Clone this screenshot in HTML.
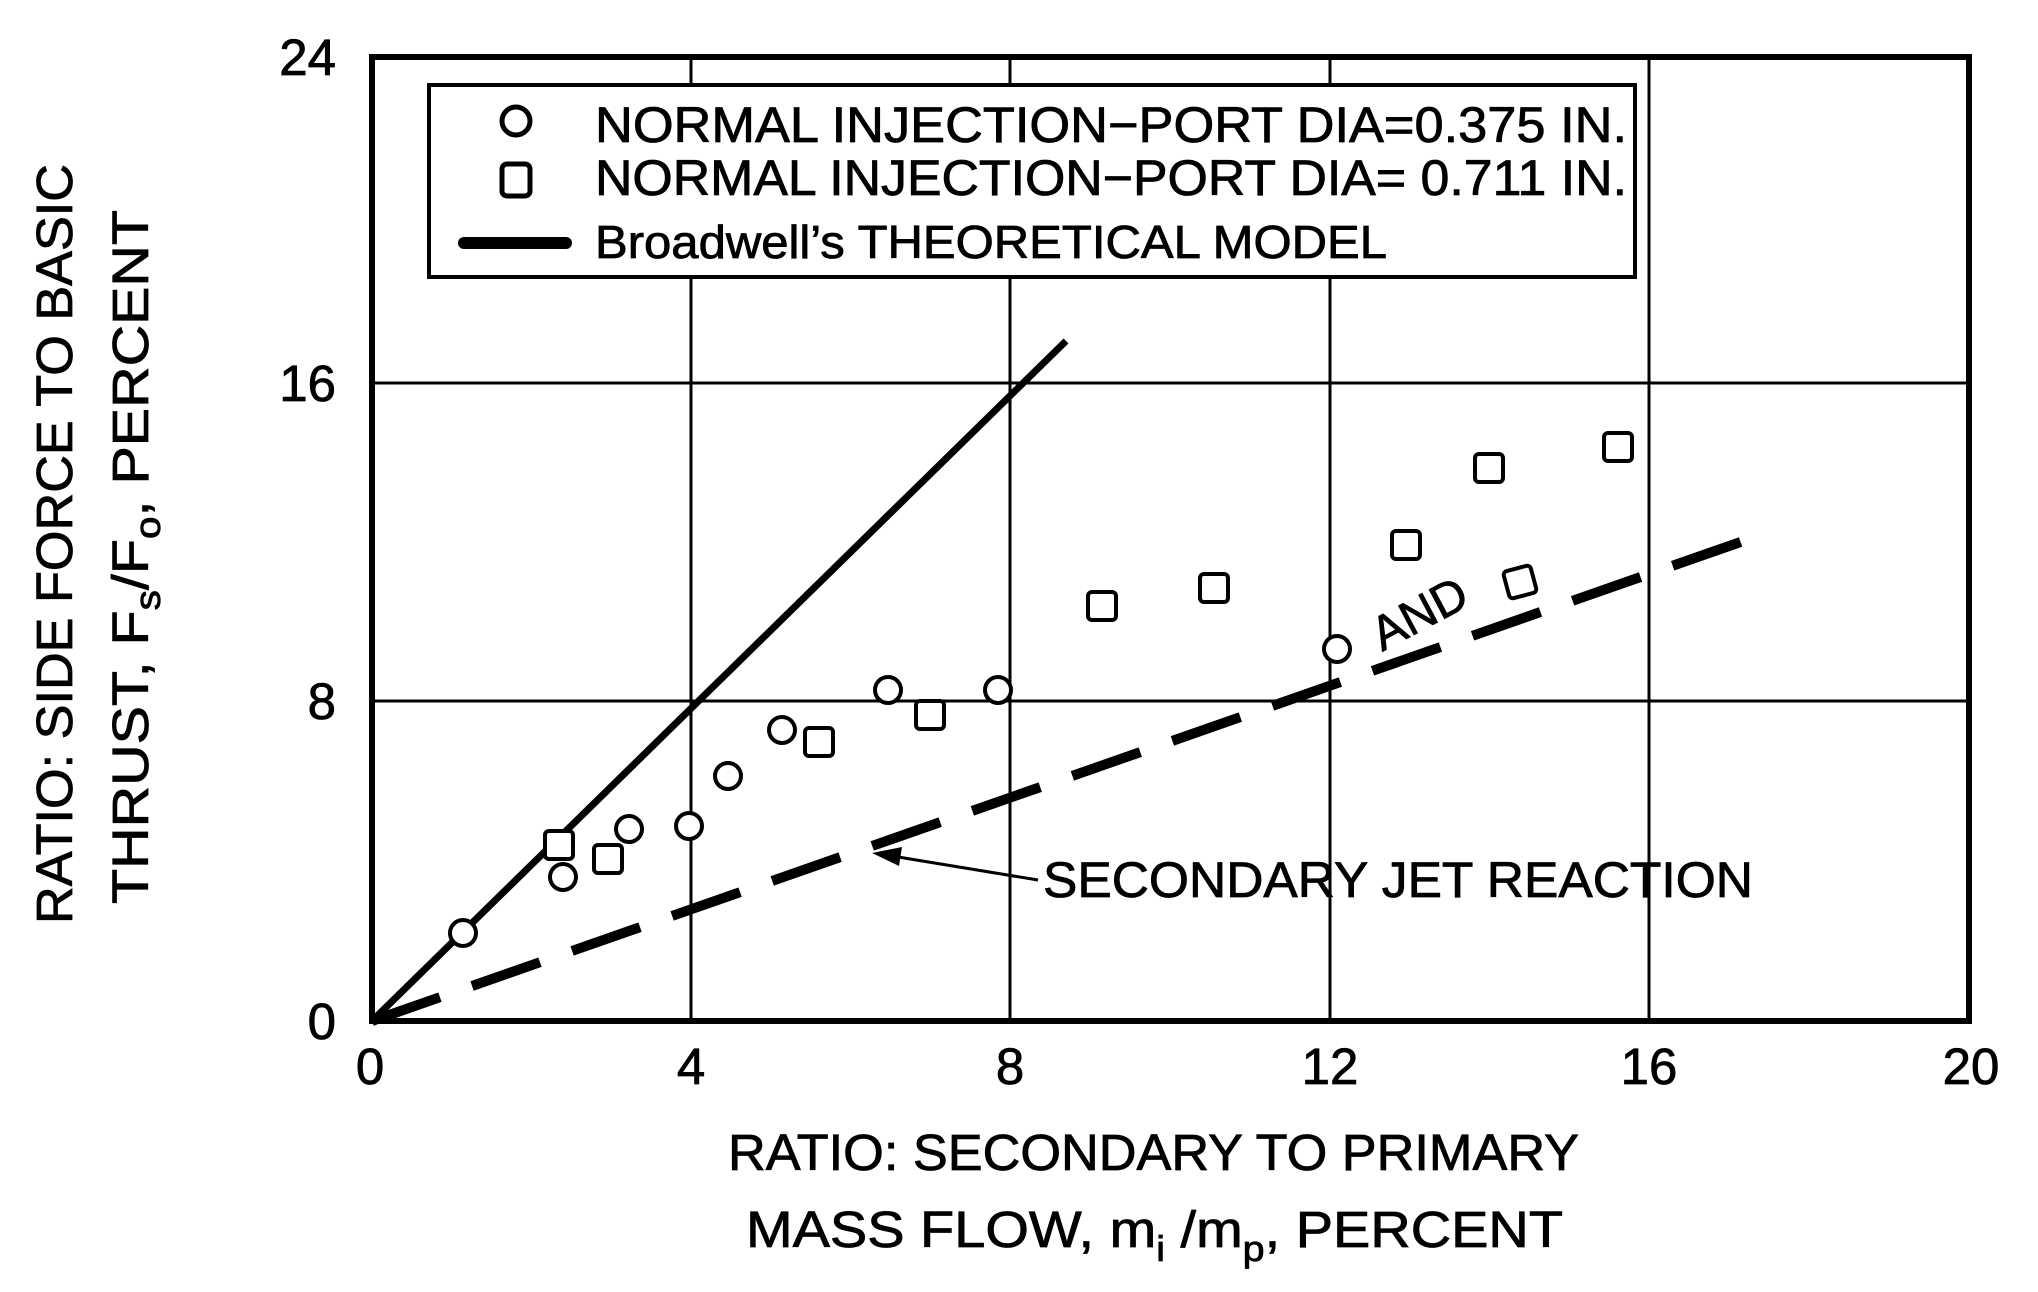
<!DOCTYPE html>
<html><head><meta charset="utf-8"><style>
html,body{margin:0;padding:0;background:#fff;}
svg{display:block;}
text{font-family:"Liberation Sans",sans-serif;fill:#000;stroke:#000;stroke-width:0.8px;}
</style></head><body>
<svg width="2038" height="1292" viewBox="0 0 2038 1292" xmlns="http://www.w3.org/2000/svg">
<rect width="2038" height="1292" fill="#fff"/>
<g stroke="#000" stroke-width="3">
<line x1="691" y1="57" x2="691" y2="1021"/>
<line x1="1010" y1="57" x2="1010" y2="1021"/>
<line x1="1330" y1="57" x2="1330" y2="1021"/>
<line x1="1649" y1="57" x2="1649" y2="1021"/>
<line x1="372" y1="383" x2="1969" y2="383"/>
<line x1="372" y1="701" x2="1969" y2="701"/>
</g>
<rect x="372" y="57" width="1597" height="964" fill="none" stroke="#000" stroke-width="6"/>
<rect x="429" y="85" width="1206" height="192" fill="#fff" stroke="#000" stroke-width="4"/>
<circle cx="516" cy="121" r="14" fill="none" stroke="#000" stroke-width="5"/>
<rect x="502" y="164" width="28" height="32" rx="5" fill="none" stroke="#000" stroke-width="5"/>
<line x1="464" y1="243" x2="566" y2="243" stroke="#000" stroke-width="12" stroke-linecap="round"/>
<text x="595" y="142" font-size="50" textLength="1032" lengthAdjust="spacingAndGlyphs">NORMAL INJECTION−PORT DIA=0.375 IN.</text>
<text x="595" y="195" font-size="50" textLength="1032" lengthAdjust="spacingAndGlyphs">NORMAL INJECTION−PORT DIA= 0.711 IN.</text>
<text x="595" y="258" font-size="46" textLength="792" lengthAdjust="spacingAndGlyphs">Broadwell’s THEORETICAL MODEL</text>
<line x1="372" y1="1021" x2="1066" y2="341" stroke="#000" stroke-width="7"/>
<line x1="372" y1="1021" x2="1752" y2="538" stroke="#000" stroke-width="10" stroke-dasharray="72 34" stroke-linecap="butt"/>
<line x1="1038" y1="880" x2="892" y2="856" stroke="#000" stroke-width="3"/>
<polygon points="872,853 902,847 899,866" fill="#000"/>
<text x="1043" y="897" font-size="50" textLength="710" lengthAdjust="spacingAndGlyphs">SECONDARY JET REACTION</text>
<text transform="translate(1427,628) rotate(-28)" x="0" y="0" font-size="48" text-anchor="middle">AND</text>
<g fill="#fff" stroke="#000" stroke-width="4">
<circle cx="463" cy="933" r="13"/>
<circle cx="563" cy="877" r="13"/>
<circle cx="629" cy="829" r="13"/>
<circle cx="689" cy="826" r="13"/>
<circle cx="728" cy="776" r="13"/>
<circle cx="782" cy="730" r="13"/>
<circle cx="888" cy="690" r="13"/>
<circle cx="998" cy="690" r="13"/>
<circle cx="1337" cy="649" r="13"/>
</g>
<g fill="#fff" stroke="#000" stroke-width="4">
<rect x="545" y="831" width="28" height="28" rx="4"/>
<rect x="594" y="845" width="28" height="28" rx="4"/>
<rect x="805" y="728" width="28" height="28" rx="4"/>
<rect x="916" y="701" width="28" height="28" rx="4"/>
<rect x="1088" y="592" width="28" height="28" rx="4"/>
<rect x="1200" y="574" width="28" height="28" rx="4"/>
<rect x="1392" y="531" width="28" height="28" rx="4"/>
<rect x="1475" y="454" width="28" height="28" rx="4"/>
<rect x="1604" y="433" width="28" height="28" rx="4"/>
<rect x="1506" y="568" width="28" height="28" rx="4" transform="rotate(-15 1520 582)"/>
</g>
<g font-size="51" text-anchor="end">
<text x="336" y="75">24</text>
<text x="336" y="401">16</text>
<text x="336" y="719">8</text>
<text x="336" y="1039">0</text>
</g>
<g font-size="51" text-anchor="middle">
<text x="370" y="1084">0</text>
<text x="691" y="1084">4</text>
<text x="1010" y="1084">8</text>
<text x="1330" y="1084">12</text>
<text x="1649" y="1084">16</text>
<text x="1971" y="1084">20</text>
</g>
<text x="728" y="1170" font-size="51" textLength="851" lengthAdjust="spacingAndGlyphs">RATIO: SECONDARY TO PRIMARY</text>
<text x="746" y="1247" font-size="51" textLength="817" lengthAdjust="spacingAndGlyphs">MASS FLOW, m<tspan font-size="36" dy="14">i</tspan><tspan dy="-14"> /m</tspan><tspan font-size="36" dy="14">p</tspan><tspan dy="-14">, PERCENT</tspan></text>
<text transform="translate(72,924) rotate(-90)" x="0" y="0" font-size="51" textLength="760" lengthAdjust="spacingAndGlyphs">RATIO: SIDE FORCE TO BASIC</text>
<text transform="translate(148,904) rotate(-90)" x="0" y="0" font-size="51" textLength="694" lengthAdjust="spacingAndGlyphs">THRUST, F<tspan font-size="36" dy="12">s</tspan><tspan dy="-12">/F</tspan><tspan font-size="36" dy="12">o</tspan><tspan dy="-12">,  PERCENT</tspan></text>
</svg>
</body></html>
